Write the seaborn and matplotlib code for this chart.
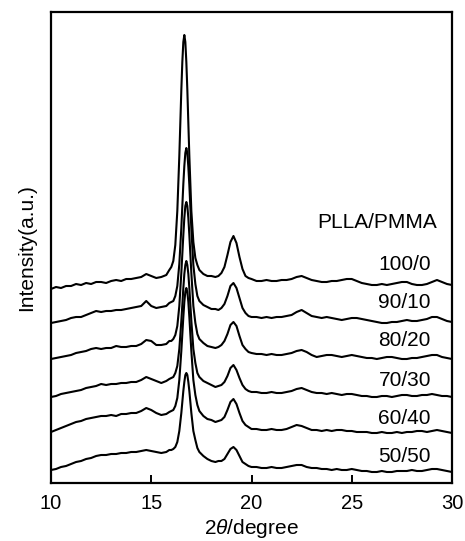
import matplotlib
matplotlib.use("Agg")
import matplotlib.pyplot as plt
import seaborn as sns
import pandas as pd

# 2theta grid (degrees)
two_theta = [10.0, 10.25, 10.5, 10.75, 11.0, 11.25, 11.5, 11.75, 12.0, 12.25, 12.5, 12.75,
             13.0, 13.25, 13.5, 13.75, 14.0, 14.25, 14.5, 14.75, 15.0, 15.25, 15.5, 15.75,
             15.9, 16.0, 16.1, 16.2, 16.3, 16.4, 16.5, 16.55, 16.6, 16.65, 16.7, 16.75,
             16.8, 16.85, 16.9, 17.0, 17.1, 17.2, 17.3, 17.4, 17.6, 17.8, 18.0, 18.2,
             18.35, 18.5, 18.65, 18.8, 18.95, 19.1, 19.25, 19.4, 19.55, 19.7, 19.85, 20.0,
             20.25, 20.5, 20.75, 21.0, 21.25, 21.5, 21.75, 22.0, 22.25, 22.5, 22.75, 23.0,
             23.25, 23.5, 23.75, 24.0, 24.25, 24.5, 24.75, 25.0, 25.25, 25.5, 25.75, 26.0,
             26.25, 26.5, 26.75, 27.0, 27.25, 27.5, 27.75, 28.0, 28.25, 28.5, 28.75, 29.0,
             29.25, 29.5, 29.75, 30.0]

# stacked intensities (a.u., already offset as in the figure)
i_100_0 = [194, 196, 195, 197, 197, 199, 198, 200, 199, 201, 201, 200, 202, 203, 202, 204, 204, 205, 206, 209, 207, 205, 206, 208,
           213, 216, 222, 238, 272, 327, 393, 421, 441, 448, 441, 421, 393, 360, 327, 272, 241, 225, 218, 213, 209, 207, 207, 206,
           207, 210, 216, 228, 241, 247, 240, 226, 214, 207, 205, 204,
           202, 202, 203, 202, 202, 203, 203, 204, 206, 207, 205, 203, 202, 201, 201, 202, 202, 203, 204, 204,
           202, 200, 199, 198, 198, 199, 198, 199, 200, 201, 201, 199, 198, 198, 199, 201, 203, 201, 199, 198]
i_90_10 = [160, 161, 162, 163, 165, 166, 166, 168, 170, 172, 171, 172, 172, 173, 173, 174, 175, 176, 177, 182, 177, 175, 176, 177,
           180, 181, 182, 187, 197, 219, 255, 277, 299, 317, 330, 335, 330, 316, 298, 254, 218, 199, 187, 182, 178, 176, 174, 174,
           173, 175, 179, 187, 197, 200, 195, 185, 175, 170, 167, 166,
           166, 165, 166, 165, 166, 166, 167, 168, 171, 173, 170, 167, 166, 165, 166, 165, 164, 163, 164, 165,
           165, 164, 163, 162, 161, 160, 160, 161, 161, 162, 163, 162, 162, 163, 164, 166, 166, 164, 162, 161]
i_80_20 = [124, 125, 126, 127, 128, 130, 131, 132, 134, 135, 134, 135, 135, 137, 136, 136, 137, 137, 139, 143, 142, 138, 138, 139,
           142, 142, 144, 148, 157, 177, 210, 229, 248, 265, 277, 281, 277, 265, 248, 210, 177, 160, 149, 144, 140, 137, 136, 135,
           136, 138, 142, 149, 158, 161, 157, 147, 138, 134, 131, 130,
           129, 129, 128, 129, 128, 128, 129, 130, 132, 133, 131, 128, 126, 127, 128, 128, 127, 126, 127, 128,
           127, 126, 125, 125, 124, 125, 126, 126, 125, 124, 124, 125, 125, 126, 127, 128, 128, 126, 125, 124]
i_70_30 = [86, 87, 89, 90, 91, 92, 93, 95, 96, 97, 99, 98, 99, 99, 100, 100, 101, 101, 103, 106, 104, 102, 100, 102,
           104, 105, 106, 110, 117, 134, 162, 178, 195, 209, 218, 222, 218, 209, 195, 162, 134, 120, 110, 106, 102, 100, 98, 96,
           97, 98, 101, 107, 115, 118, 113, 105, 98, 94, 92, 91,
           91, 90, 90, 91, 90, 90, 91, 92, 94, 95, 93, 91, 90, 90, 89, 90, 89, 88, 89, 89,
           88, 87, 87, 86, 86, 87, 87, 86, 87, 88, 88, 87, 87, 88, 88, 89, 88, 87, 87, 86]
i_60_40 = [51, 53, 55, 57, 59, 61, 62, 64, 65, 66, 67, 67, 68, 67, 69, 69, 70, 70, 72, 75, 73, 70, 68, 69,
           71, 72, 73, 77, 85, 103, 132, 149, 166, 181, 191, 195, 191, 181, 166, 132, 103, 88, 78, 72, 67, 64, 63, 61,
           62, 63, 66, 73, 81, 84, 79, 70, 62, 58, 56, 54,
           54, 53, 53, 54, 53, 53, 54, 56, 58, 57, 55, 53, 53, 52, 53, 52, 53, 53, 52, 52,
           51, 51, 51, 50, 50, 51, 50, 50, 51, 50, 51, 51, 52, 52, 51, 52, 53, 52, 51, 50]
i_50_50 = [13, 14, 16, 17, 19, 21, 22, 24, 25, 27, 28, 28, 29, 29, 30, 30, 31, 31, 32, 33, 32, 31, 30, 31,
           33, 33, 34, 36, 41, 52, 70, 81, 92, 101, 108, 110, 108, 101, 92, 70, 52, 43, 35, 31, 27, 24, 22, 21,
           22, 22, 24, 29, 34, 36, 33, 27, 21, 19, 17, 16,
           16, 15, 15, 16, 15, 15, 16, 17, 18, 18, 16, 15, 15, 14, 14, 13, 14, 13, 13, 14,
           13, 12, 12, 11, 11, 12, 11, 11, 12, 12, 12, 13, 12, 12, 13, 14, 14, 13, 12, 11]

samples = ["100/0", "90/10", "80/20", "70/30", "60/40", "50/50"]
label_y = [218, 181, 143, 103, 65, 27]
legend_title = "PLLA/PMMA"
x_ticks = [10, 15, 20, 25, 30]

series = [i_100_0, i_90_10, i_80_20, i_70_30, i_60_40, i_50_50]
rows = []
for name, ys in zip(samples, series):
    assert len(ys) == len(two_theta), (name, len(ys))
    for xv, yv in zip(two_theta, ys):
        rows.append({"two_theta": xv, "intensity": yv, "sample": name})
df = pd.DataFrame(rows)

sns.set_style("ticks")
plt.rcParams["font.family"] = ["Liberation Sans", "DejaVu Sans"]
plt.rcParams["mathtext.fontset"] = "custom"
plt.rcParams["mathtext.it"] = "Liberation Sans:italic"
plt.rcParams["mathtext.rm"] = "Liberation Sans"
plt.rcParams["text.color"] = "black"
plt.rcParams["axes.labelcolor"] = "black"
plt.rcParams["xtick.color"] = "black"

fig = plt.figure(figsize=(4.65, 5.41), dpi=100)
ax = fig.add_axes([51 / 465, 1 - 483 / 541, (452 - 51) / 465, (483 - 12) / 541])

sns.lineplot(data=df, x="two_theta", y="intensity", hue="sample", units="sample",
             estimator=None, palette=["black"] * len(samples), legend=False,
             linewidth=1.5, ax=ax, sort=True)

for name, yl in zip(samples, label_y):
    ax.text(28.95, yl, name, ha="right", va="center", fontsize=15, color="black")
ax.text(29.25, 261, legend_title, ha="right", va="center", fontsize=15, color="black")

ax.set_xlim(10, 30)
ax.set_ylim(0, 471)
ax.set_xticks(x_ticks)
ax.set_xticklabels([str(t) for t in x_ticks], fontsize=14.5)
ax.set_yticks([])
ax.tick_params(axis="x", direction="in", length=6, width=1.4, pad=8, colors="black")
for sp in ax.spines.values():
    sp.set_linewidth(1.6)
    sp.set_color("black")
ax.set_xlabel(r"2$\it{\theta}$/degree", fontsize=15, labelpad=3)
ax.set_ylabel("Intensity(a.u.)", fontsize=15, labelpad=11)

fig.savefig("out.png", dpi=100)
